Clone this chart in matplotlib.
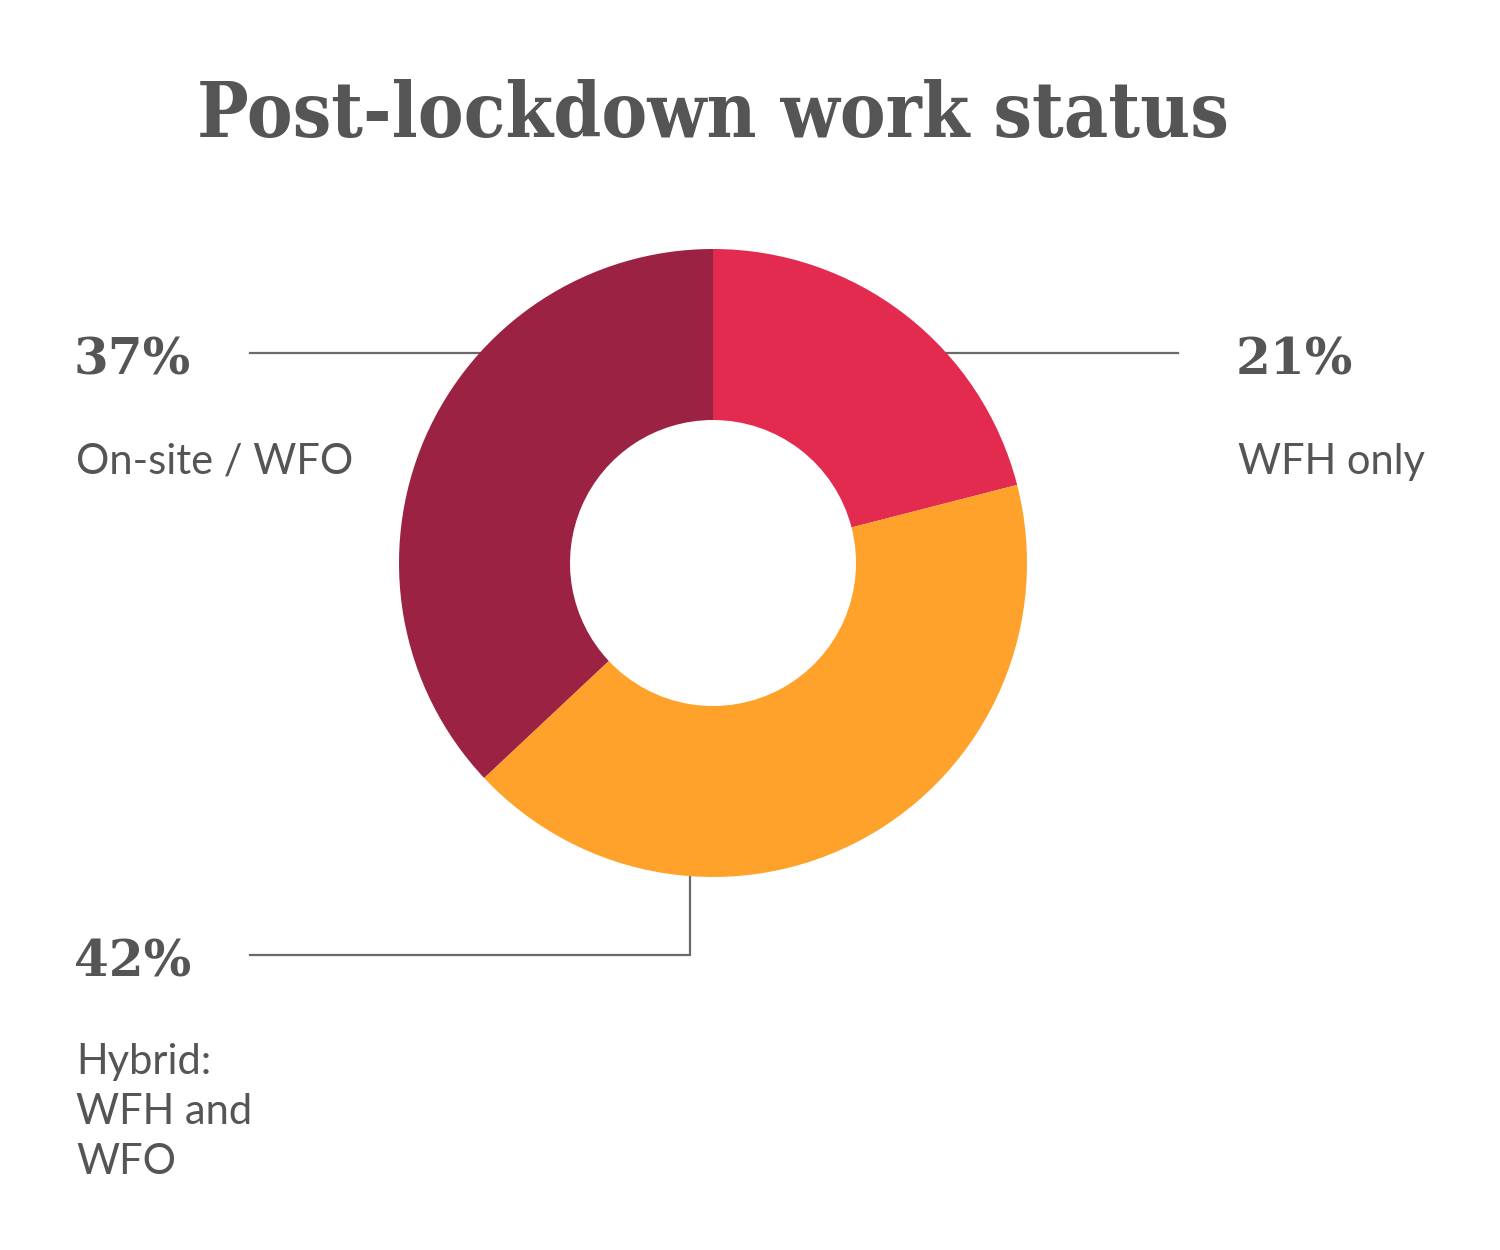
import matplotlib
matplotlib.use("Agg")
import matplotlib.pyplot as plt

# data
categories = ["WFH only", "Hybrid:\nWFH and\nWFO", "On-site / WFO"]
shares = [21, 42, 37]
pct_labels = ["21%", "42%", "37%"]
colors = ["#E32B4F", "#FFA22B", "#9B2242"]

TEXT = "#555555"
LINE = "#6a6a6a"
W, H = 1500, 1250


def py(y):
    # pixel row (top-down) -> data y (bottom-up)
    return H - y


fig = plt.figure(figsize=(15, 12.5), dpi=100)
ax = fig.add_axes([0, 0, 1, 1])

# leader lines, drawn under the donut
ax.plot([250, 480], [py(353), py(353)], color=LINE, lw=1.6, zorder=1)
ax.plot([945, 1178], [py(353), py(353)], color=LINE, lw=1.6, zorder=1)
ax.plot([690, 690, 250], [py(870), py(955), py(955)], color=LINE, lw=1.6,
        zorder=1, solid_joinstyle="miter")

wedges, _ = ax.pie(shares, colors=colors, startangle=90, counterclock=False,
                   center=(713, py(563)), radius=314,
                   wedgeprops=dict(width=171, linewidth=0), frame=True)
for w in wedges:
    w.set_zorder(2)

ax.set_xlim(0, W)
ax.set_ylim(0, H)
ax.set_aspect("equal")
ax.axis("off")

serif = dict(family="DejaVu Serif", weight="bold", color=TEXT)
sans = dict(family="Lato", color=TEXT)

ax.text(713, py(116), "Post-lockdown work status", ha="center", va="center",
        fontsize=55, fontstretch="condensed", **serif)

ax.text(1236, py(361), pct_labels[0], ha="left", va="center", fontsize=36, **serif)
ax.text(1238, py(462), categories[0], ha="left", va="center", fontsize=30, **sans)

ax.text(74, py(361), pct_labels[2], ha="left", va="center", fontsize=36, **serif)
ax.text(76, py(462), categories[2], ha="left", va="center", fontsize=30, **sans)

ax.text(74, py(963), pct_labels[1], ha="left", va="center", fontsize=36, **serif)
ax.text(76, py(1043), categories[1], ha="left", va="top", fontsize=30,
        linespacing=1.38, **sans)

fig.savefig("out.png", dpi=100, facecolor="white")
